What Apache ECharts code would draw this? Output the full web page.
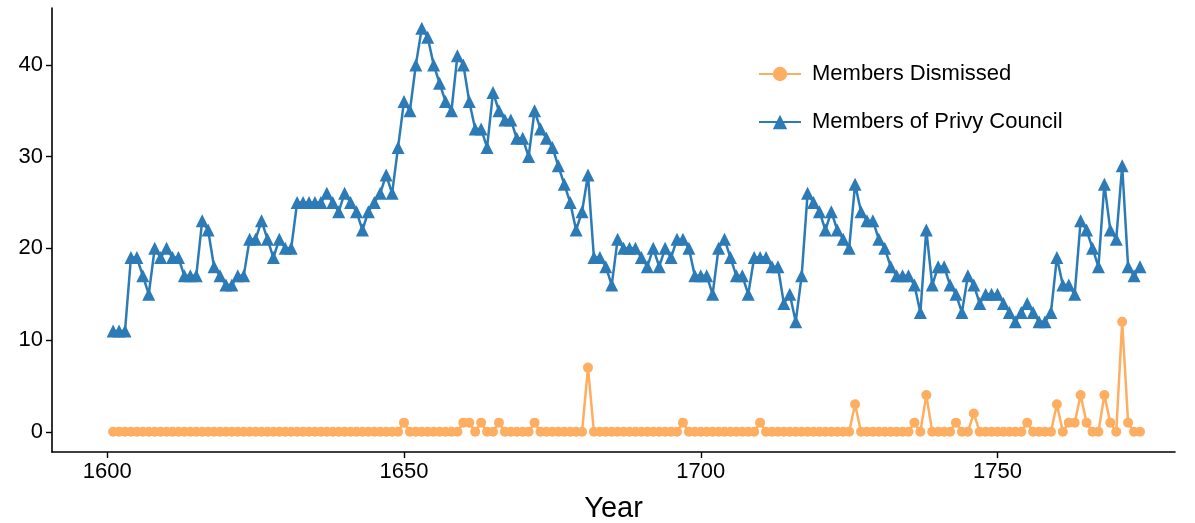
<!DOCTYPE html>
<html>
<head>
<meta charset="utf-8">
<script src="https://cdn.jsdelivr.net/npm/echarts@6/dist/echarts.min.js"></script>
<style>
  html, body { margin: 0; padding: 0; background: #fff; }
  #chart { width: 1195px; height: 523px; }
</style>
</head>
<body>
<div id="chart"></div>
<script>
// years of the records
var years = [
  1601,1602,1603,1604,1605,1606,1607,1608,1609,1610,
  1611,1612,1613,1614,1615,1616,1617,1618,1619,1620,
  1621,1622,1623,1624,1625,1626,1627,1628,1629,1630,
  1631,1632,1633,1634,1635,1636,1637,1638,1639,1640,
  1641,1642,1643,1644,1645,1646,1647,1648,1649,1650,
  1651,1652,1653,1654,1655,1656,1657,1658,1659,1660,
  1661,1662,1663,1664,1665,1666,1667,1668,1669,1670,
  1671,1672,1673,1674,1675,1676,1677,1678,1679,1680,
  1681,1682,1683,1684,1685,1686,1687,1688,1689,1690,
  1691,1692,1693,1694,1695,1696,1697,1698,1699,1700,
  1701,1702,1703,1704,1705,1706,1707,1708,1709,1710,
  1711,1712,1713,1714,1715,1716,1717,1718,1719,1720,
  1721,1722,1723,1724,1725,1726,1727,1728,1729,1730,
  1731,1732,1733,1734,1735,1736,1737,1738,1739,1740,
  1741,1742,1743,1744,1745,1746,1747,1748,1749,1750,
  1751,1752,1753,1754,1755,1756,1757,1758,1759,1760,
  1761,1762,1763,1764,1765,1766,1767,1768,1769,1770,
  1771,1772,1773,1774
];

// members of privy council
var privyCouncil = [
  11,11,11,19,19,17,15,20,19,20,
  19,19,17,17,17,23,22,18,17,16,
  16,17,17,21,21,23,21,19,21,20,
  20,25,25,25,25,25,26,25,24,26,
  25,24,22,24,25,26,28,26,31,36,
  35,40,44,43,40,38,36,35,41,40,
  36,33,33,31,37,35,34,34,32,32,
  30,35,33,32,31,29,27,25,22,24,
  28,19,19,18,16,21,20,20,20,19,
  18,20,18,20,19,21,21,20,17,17,
  17,15,20,21,19,17,17,15,19,19,
  19,18,18,14,15,12,17,26,25,24,
  22,24,22,21,20,27,24,23,23,21,
  20,18,17,17,17,16,13,22,16,18,
  18,16,15,13,17,16,14,15,15,15,
  14,13,12,13,14,13,12,12,13,19,
  16,16,15,23,22,20,18,27,22,21,
  29,18,17,18
];

// members dismissed
var dismissed = [
  0,0,0,0,0,0,0,0,0,0,
  0,0,0,0,0,0,0,0,0,0,
  0,0,0,0,0,0,0,0,0,0,
  0,0,0,0,0,0,0,0,0,0,
  0,0,0,0,0,0,0,0,0,1,
  0,0,0,0,0,0,0,0,0,1,
  1,0,1,0,0,1,0,0,0,0,
  0,1,0,0,0,0,0,0,0,0,
  7,0,0,0,0,0,0,0,0,0,
  0,0,0,0,0,0,1,0,0,0,
  0,0,0,0,0,0,0,0,0,1,
  0,0,0,0,0,0,0,0,0,0,
  0,0,0,0,0,3,0,0,0,0,
  0,0,0,0,0,1,0,4,0,0,
  0,0,1,0,0,2,0,0,0,0,
  0,0,0,0,1,0,0,0,0,3,
  0,1,1,4,1,0,0,4,1,0,
  12,1,0,0
];

var xTicks = [1600, 1650, 1700, 1750];
var yTicks = [0, 10, 20, 30, 40];

var font = 'Liberation Sans, Arial, sans-serif';

var chart = echarts.init(document.getElementById('chart'));

chart.setOption({
    animation: false,
    backgroundColor: '#ffffff',
    grid: {
        left: 52,
        right: 20,
        top: 8,
        bottom: 71,
        containLabel: false,
        outerBoundsMode: 'none'
    },
    legend: {
        orient: 'vertical',
        left: 753,
        top: 58,
        itemWidth: 42,
        itemHeight: 18,
        itemGap: 26,
        textStyle: {
            fontFamily: font,
            fontSize: 22,
            color: '#000',
            padding: [0, 0, 0, 6]
        },
        data: ['Members Dismissed', 'Members of Privy Council']
    },
    xAxis: {
        type: 'value',
        min: 1590.7,
        max: 1779.9,
        name: 'Year',
        nameLocation: 'middle',
        nameGap: 42,
        nameTextStyle: { fontFamily: font, fontSize: 29, color: '#000', verticalAlign: 'top' },
        splitLine: { show: false },
        axisLine: { show: true, onZero: false, lineStyle: { color: '#000', width: 1.6 } },
        axisTick: { show: true, length: 6, lineStyle: { color: '#000', width: 1.4 }, customValues: xTicks },
        axisLabel: {
            fontFamily: font, fontSize: 22, color: '#000', margin: 9, customValues: xTicks,
            formatter: function (v) { return String(v); }
        }
    },
    yAxis: {
        type: 'value',
        min: -2.2,
        max: 46.2,
        splitLine: { show: false },
        axisLine: { show: true, onZero: false, lineStyle: { color: '#000', width: 1.6 } },
        axisTick: { show: true, length: 6, lineStyle: { color: '#000', width: 1.4 }, customValues: yTicks },
        axisLabel: { fontFamily: font, fontSize: 22, color: '#000', margin: 9, customValues: yTicks }
    },
    series: [
        {
            name: 'Members Dismissed',
            type: 'line',
            data: years.map(function (y, i) { return [y, dismissed[i]]; }),
            symbol: 'circle',
            symbolSize: 10,
            itemStyle: { color: '#fdae61' },
            lineStyle: { color: '#fdae61', width: 2.5 }
        },
        {
            name: 'Members of Privy Council',
            type: 'line',
            data: years.map(function (y, i) { return [y, privyCouncil[i]]; }),
            symbol: 'triangle',
            symbolSize: 13,
            itemStyle: { color: '#2c7bb6' },
            lineStyle: { color: '#2c7bb6', width: 2.5 }
        }
    ]
});
</script>
</body>
</html>
